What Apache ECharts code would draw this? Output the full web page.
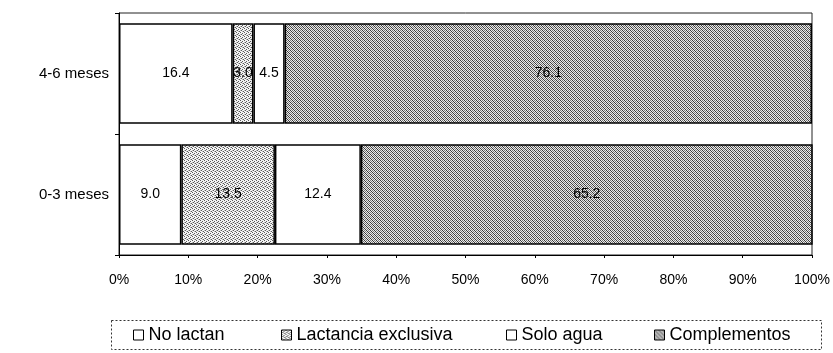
<!DOCTYPE html>
<html>
<head>
<meta charset="utf-8">
<script src="https://cdn.jsdelivr.net/npm/echarts@6/dist/echarts.min.js"></script>
<style>
html,body{margin:0;padding:0;background:#fff;}
#chart{width:833px;height:353px;}
</style>
</head>
<body>
<div id="chart"></div>
<script>
var categories = ['0-3 meses', '4-6 meses'];
var seriesNames = ['No lactan', 'Lactancia exclusiva', 'Solo agua', 'Complementos'];
var noLactan = [9.0, 16.4];
var lactanciaExclusiva = [13.5, 3.0];
var soloAgua = [12.4, 4.5];
var complementos = [65.2, 76.1];
var xTicks = [0, 10, 20, 30, 40, 50, 60, 70, 80, 90, 100];

function makePattern(kind) {
  var c = document.createElement('canvas');
  c.width = 4; c.height = 4;
  var ctx = c.getContext('2d');
  if (kind === 'white') {
    ctx.fillStyle = '#ffffff'; ctx.fillRect(0, 0, 4, 4);
  } else if (kind === 'light') {
    ctx.fillStyle = '#f4f4f4'; ctx.fillRect(0, 0, 4, 4);
    ctx.fillStyle = '#5a5a5a';
    [[0,0],[2,1],[1,2],[3,3]].forEach(function(p){ ctx.fillRect(p[0], p[1], 1, 1); });
    ctx.fillStyle = '#b8b8b8';
    [[2,3],[0,2]].forEach(function(p){ ctx.fillRect(p[0], p[1], 1, 1); });
  } else {
    ctx.fillStyle = '#ececec'; ctx.fillRect(0, 0, 4, 4);
    for (var y = 0; y < 4; y++) for (var x = 0; x < 4; x++) {
      if ((x + y) % 2 === 0) { ctx.fillStyle = ((x - y + 8) % 4 === 0) ? '#3a3a3a' : '#7a7a7a'; ctx.fillRect(x, y, 1, 1); }
    }
  }
  return { image: c, repeat: 'repeat' };
}

var fills = [makePattern('white'), makePattern('light'), makePattern('white'), makePattern('dense')];
var dataSets = [noLactan, lactanciaExclusiva, soloAgua, complementos];

var chart = echarts.init(document.getElementById('chart'), null, { renderer: 'canvas' });

var legendLefts = [128, 276, 501, 649];
var legends = seriesNames.map(function (n, i) {
  return {
    data: [n], left: legendLefts[i], top: 321, itemWidth: 10, itemHeight: 10, itemGap: 4,
    icon: 'rect', textStyle: { fontFamily: 'Arial, Liberation Sans', fontSize: 18, color: '#000' },
    itemStyle: { borderColor: '#000', borderWidth: 1 }
  };
});

var option = {
  animation: false,
  backgroundColor: '#fff',
  grid: { left: 119, right: 21, top: 13, bottom: 98, show: true, borderColor: '#222', borderWidth: 1, backgroundColor: 'transparent' },
  xAxis: {
    type: 'value', min: 0, max: 100, interval: 10,
    axisLine: { show: true, lineStyle: { color: '#000', width: 1 } },
    axisTick: { show: true, length: 3, lineStyle: { color: '#000' } },
    splitLine: { show: false },
    axisLabel: { formatter: '{value}%', fontFamily: 'Arial, Liberation Sans', fontSize: 14, color: '#000', margin: 18 }
  },
  yAxis: {
    type: 'category', data: categories,
    axisLine: { show: true, lineStyle: { color: '#000', width: 1 } },
    axisTick: { show: true, length: 4, lineStyle: { color: '#000' } },
    axisLabel: { fontFamily: 'Arial, Liberation Sans', fontSize: 15, color: '#000', margin: 10 }
  },
  legend: legends,
  graphic: [{
    type: 'rect', left: 109, top: 318, shape: { width: 710, height: 29 },
    style: { fill: 'none', stroke: '#333', lineWidth: 1, lineDash: [2, 2] }, silent: true
  }],
  series: seriesNames.map(function (n, i) {
    return {
      name: n, type: 'bar', stack: 'total', barCategoryGap: '17%',
      data: dataSets[i],
      itemStyle: { color: fills[i], borderColor: '#000', borderWidth: 1.5 },
      label: {
        show: true, position: 'inside', color: '#000', fontFamily: 'Arial, Liberation Sans', fontSize: 14,
        formatter: function (p) { return p.value.toFixed(1); }
      }
    };
  })
};
chart.setOption(option);
</script>
</body>
</html>
